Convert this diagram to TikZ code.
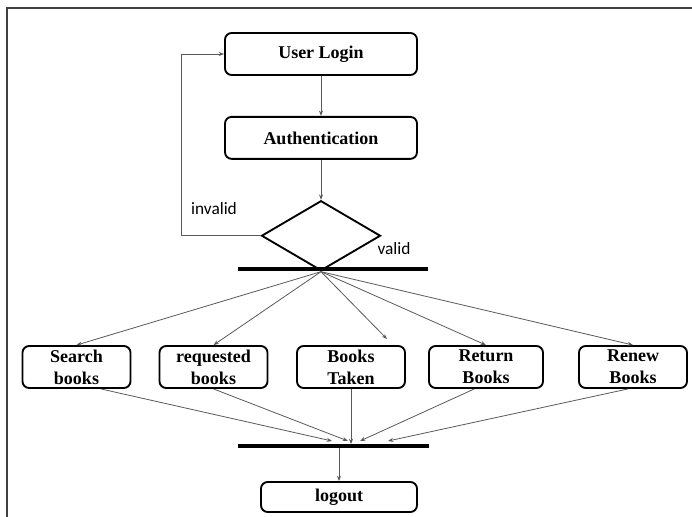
\documentclass[tikz,border=0pt]{standalone}
\usepackage{fontspec}
\setmainfont{Liberation Serif}
\newfontfamily\labelfont{Carlito}
\usepackage{tikz}
\usetikzlibrary{positioning,shapes.geometric,arrows.meta}

\begin{document}
\begin{tikzpicture}[
      x=0.75pt, y=-0.75pt,
      every node/.style={align=center},
      box/.style={draw, line width=1.4pt, rounded corners=5pt, inner sep=0pt,
        minimum height=31.5pt, font=\fontsize{13.5}{16.5}\selectfont\bfseries},
      wide/.style={box, minimum width=144pt},
      small/.style={box, minimum width=81pt},
      decision/.style={draw, diamond, line width=1.4pt, inner sep=0pt,
        minimum width=89.25pt, minimum height=52.5pt},
      bar/.style={fill=black, inner sep=0pt, minimum width=142.5pt, minimum height=2.4pt},
      arrow/.style={black!65, line width=0.6pt, ->, >={Stealth[length=4pt,width=3pt]}},
      tag/.style={font=\labelfont\fontsize{13}{15}\selectfont}
    ]
      \useasboundingbox (0,0) rectangle (692,517);
      \draw[black!75, line width=0.9pt] (7,517) -- (7,8) -- (692,8);
      % top chain
      \node[wide] (login) at (321,54) {User Login};
      \node[wide, below=30pt of login] (auth) {Authentication};
      \node[decision, below=30pt of auth] (check) {};
      \node[bar] (fork) at (333,269) {};
      \draw[arrow] (login) -- (auth);
      \draw[arrow] (auth) -- (check);
      \path (check.west) ++(-79,0) coordinate (back);
      \draw[arrow] (check.west) -- (back) |- (login.west);
      \node[tag] at (214,209) {invalid};
      \node[tag] at (394,249) {valid};
      % choices
      \node[small] (search) at (76.5,367) {Search\\books};
      \node[small] (requested) at (213.5,367) {requested\\books};
      \node[small] (taken) at (351,367) {Books\\Taken};
      \node[small, minimum width=85.5pt] (return) at (486,367) {Return\\Books};
      \node[small] (renew) at (633,367) {Renew\\Books};
      \coordinate (takenend) at (387,339);
      \draw[arrow] (check.south) -- (search.north);
      \draw[arrow] (check.south) -- (requested.north);
      \draw[arrow] (check.south) -- (takenend);
      \draw[arrow] (check.south) -- (return.north);
      \draw[arrow] (check.south) -- (renew.north);
      % join and logout
      \node[bar, minimum width=143.25pt] (join) at (333.5,446) {};
      \node[box, minimum width=117pt, minimum height=22.5pt] (logout) at (339,497) {logout};
      \coordinate (in1) at (332,441);
      \coordinate (in2) at (348,441);
      \coordinate (in4) at (360,441);
      \coordinate (in5) at (388,441);
      \draw[arrow] (search.-42) -- (in1);
      \draw[arrow] (requested.south) -- (in2);
      \draw[arrow] (taken.south) -- (taken.south |- join.north);
      \draw[arrow] (return.-118) -- (in4);
      \draw[arrow] (renew.-103) -- (in5);
      \draw[arrow] (logout.north |- join.south) -- (logout.north);
    \end{tikzpicture}
\end{document}
